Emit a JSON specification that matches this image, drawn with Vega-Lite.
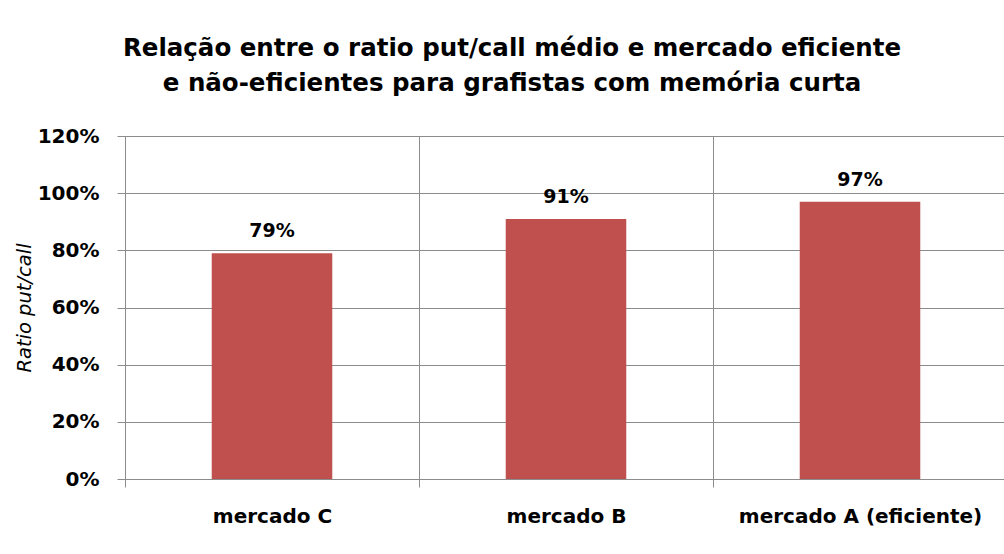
{
  "$schema": "https://vega.github.io/schema/vega-lite/v6.json",
  "width": 882,
  "height": 343,
  "autosize": "none",
  "padding": {"left": 125, "top": 136, "right": 0, "bottom": 75},
  "background": "white",
  "view": {"stroke": null},
  "title": {
    "text": ["Relação entre o ratio put/call médio e mercado eficiente", "e não-eficientes para grafistas com memória curta"],
    "font": "DejaVu Sans",
    "fontSize": 24.5,
    "fontWeight": "bold",
    "color": "black",
    "anchor": "middle",
    "dx": -54,
    "offset": 30,
    "lineHeight": 35
  },
  "data": {
    "values": [
      {"mercado": "mercado C", "ratio": 0.79},
      {"mercado": "mercado B", "ratio": 0.91},
      {"mercado": "mercado A (eficiente)", "ratio": 0.97}
    ]
  },
  "encoding": {
    "x": {
      "field": "mercado",
      "type": "nominal",
      "sort": null,
      "scale": {"paddingInner": 0, "paddingOuter": 0},
      "axis": {
        "title": null,
        "labelAngle": 0,
        "labelLimit": 0,
        "tickBand": "extent",
        "grid": true,
        "gridColor": "#8c8c8c",
        "domainColor": "#8c8c8c",
        "tickColor": "#8c8c8c",
        "tickSize": 8,
        "labelFont": "DejaVu Sans",
        "labelFontSize": 20,
        "labelFontWeight": "bold",
        "labelColor": "black",
        "labelPadding": 19
      }
    },
    "y": {
      "field": "ratio",
      "type": "quantitative",
      "scale": {"domain": [0, 1.2]},
      "axis": {
        "values": [0, 0.2, 0.4, 0.6, 0.8, 1.0, 1.2],
        "format": ".0%",
        "grid": true,
        "gridColor": "#8c8c8c",
        "domainColor": "#8c8c8c",
        "tickColor": "#8c8c8c",
        "tickSize": 8,
        "labelFont": "DejaVu Sans",
        "labelFontSize": 20,
        "labelFontWeight": "bold",
        "labelColor": "black",
        "labelPadding": 18,
        "title": "Ratio put/call",
        "titleFont": "DejaVu Sans",
        "titleFontSize": 19.5,
        "titleFontStyle": "italic",
        "titleFontWeight": "normal",
        "titleColor": "black",
        "titlePadding": 3
      }
    }
  },
  "layer": [
    {"mark": {"type": "bar", "color": "#C0504D", "width": {"band": 0.41}}},
    {
      "mark": {"type": "text", "baseline": "bottom", "dy": -12, "font": "DejaVu Sans", "fontSize": 19, "fontWeight": "bold", "color": "black"},
      "encoding": {"text": {"field": "ratio", "format": ".0%"}}
    }
  ]
}
